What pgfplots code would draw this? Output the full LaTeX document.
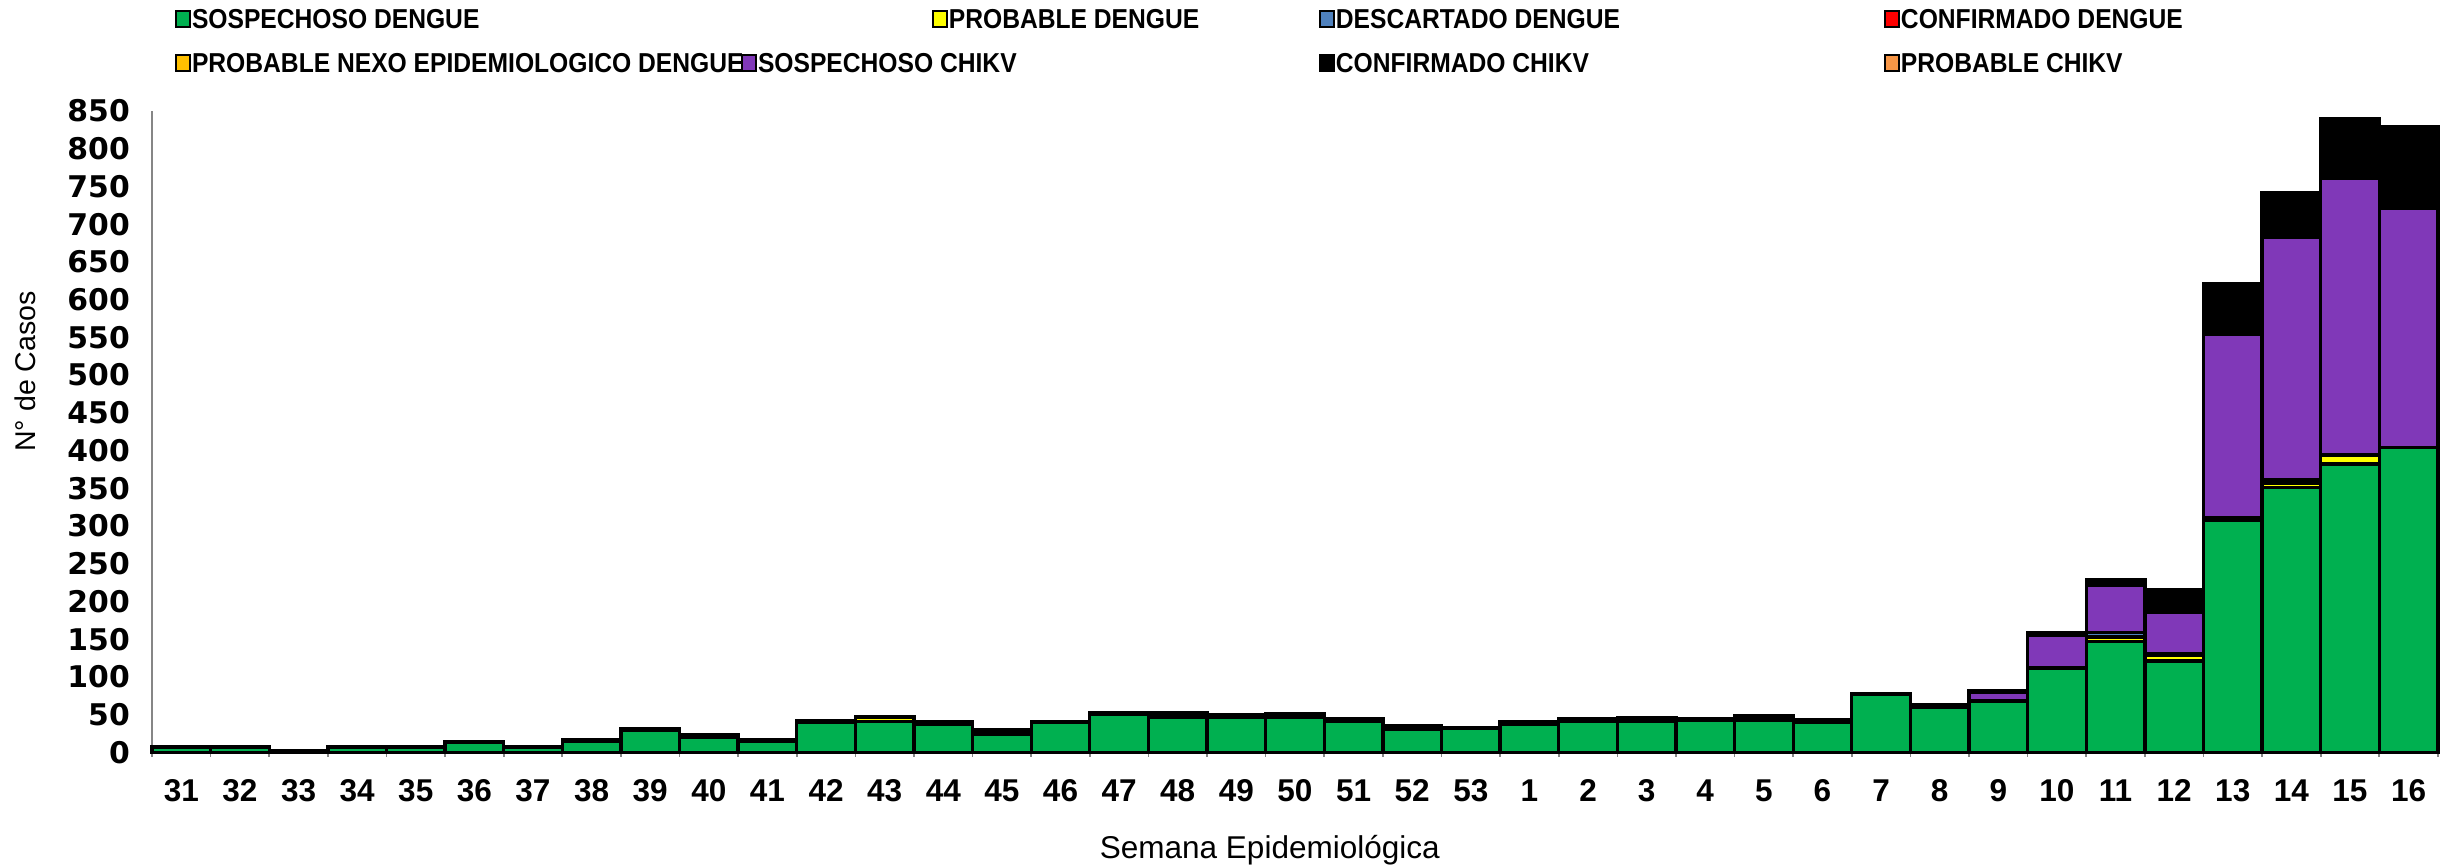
\documentclass[border=0pt]{standalone}
\usepackage{pgfplots}
\usepackage{pgfplotstable}
\usepackage{fontspec}
\pgfplotsset{compat=1.18}
\setmainfont{Liberation Sans}
\newfontfamily\dejavu{DejaVu Sans}
\newfontfamily\legfont[FakeStretch=0.9]{Liberation Sans}

\definecolor{cSD}{RGB}{0,176,80}
\definecolor{cPD}{RGB}{255,255,0}
\definecolor{cDD}{RGB}{79,129,189}
\definecolor{cCD}{RGB}{255,0,0}
\definecolor{cNX}{RGB}{255,192,0}
\definecolor{cSC}{RGB}{128,56,184}
\definecolor{cCC}{RGB}{0,0,0}
\definecolor{cPC}{RGB}{247,150,70}
\definecolor{axgray}{RGB}{134,134,134}

% semana, sospechoso dengue, probable dengue, descartado dengue, confirmado dengue,
% probable nexo, sospechoso chikv, confirmado chikv, probable chikv
\pgfplotstableread{
idx week sdeng pdeng ddeng cdeng nexo schik cchik pchik
0  31  6   0  0 0 0 0   1   0
1  32  6   0  0 0 0 0   2   0
2  33  1   0  0 0 0 0   1   0
3  34  7   0  0 0 0 0   1   0
4  35  7   0  0 0 0 0   0   0
5  36  13  0  0 0 0 0   1   0
6  37  6   0  0 0 0 0   1   0
7  38  15  0  0 0 0 0   2   0
8  39  29  0  0 0 0 0   3   0
9  40  20  0  0 0 0 0   4   0
10 41  15  0  0 0 0 0   2   0
11 42  40  0  0 0 0 0   2   0
12 43  41  5  0 0 0 0   1   0
13 44  37  3  0 0 0 0   1   0
14 45  24  0  0 0 2 0   4   0
15 46  40  0  0 0 0 0   1   0
16 47  50  0  0 0 0 0   2   0
17 48  47  0  5 0 0 0   1   0
18 49  47  0  0 0 2 0   1   0
19 50  47  0  3 0 0 0   1   0
20 51  41  0  0 0 0 0   4   0
21 52  31  0  0 0 2 0   2   0
22 53  32  0  0 0 0 0   1   0
23 1   37  3  0 0 0 0   1   0
24 2   41  0  0 0 0 0   3   0
25 3   41  3  0 0 0 0   2   0
26 4   42  0  0 0 0 0   3   0
27 5   42  0  0 0 3 0   4   0
28 6   40  0  0 0 0 0   3   0
29 7   77  0  0 0 0 0   1   0
30 8   59  0  0 0 2 0   2   0
31 9   67  0  2 0 0 11  2   0
32 10  112 0  0 0 0 43  3   0
33 11  147 6  6 0 0 63  7   0
34 12  121 7  3 0 0 54  27  3
35 13  308 3  0 0 0 243 67  0
36 14  351 5  5 0 0 321 58  2
37 15  382 12 1 0 0 366 77  2
38 16  404 0  0 0 0 317 106 2
}\casos

\newcommand{\legitem}[4]{%
  \node[anchor=west, draw=black, fill=#3, line width=0.6pt, inner sep=0pt,
        minimum width=4.2pt, minimum height=4.6pt] at (axis description cs:#1,#2) {};
  \node[anchor=west, inner sep=0pt, xshift=4.9pt, font=\legfont\bfseries\fontsize{8.25}{9}\selectfont] at (axis description cs:#1,#2) {#4};%
}

\begin{document}
\begin{tikzpicture}
\begin{axis}[
    scale only axis,
    width=689pt, height=193.3pt,
    ybar stacked, bar width=1,
    xmin=-0.5, xmax=38.5,
    ymin=0, ymax=850,
    clip=false,
    axis x line*=bottom,
    axis y line*=left,
    axis line style={draw=axgray, line width=0.8pt},
    every inner x axis line/.append style={-},
    every inner y axis line/.append style={-},
    tick align=outside,
    major tick length=0pt,
    minor tick length=1.3pt,
    minor tick style={draw=axgray, line width=0.5pt},
    xtick={0,...,38},
    minor xtick={-0.5,0.5,...,38.5},
    xticklabels from table={\casos}{week},
    xticklabel style={font=\bfseries\fontsize{9.5}{11}\selectfont, inner sep=0pt, yshift=-8pt},
    ytick={0,50,...,850},
    yticklabel style={font=\dejavu\bfseries\fontsize{9}{10}\selectfont, inner sep=0pt, xshift=-6.5pt},
    /pgf/number format/assume math mode=true,
    xlabel={Semana Epidemiológica},
    xlabel style={font=\fontsize{9.5}{11}\selectfont, at={(axis description cs:0.489,-0.153)}, anchor=center},
    ylabel={N°\ de Casos},
    ylabel style={font=\fontsize{8.6}{10}\selectfont, at={(axis description cs:-0.0556,0.594)}, anchor=center},
    every axis plot/.append style={draw=black, line width=1pt},
]
\addplot[fill=cSD] table[x=idx, y=sdeng] {\casos};
\addplot[fill=cPD] table[x=idx, y=pdeng] {\casos};
\addplot[fill=cDD] table[x=idx, y=ddeng] {\casos};
\addplot[fill=cCD] table[x=idx, y=cdeng] {\casos};
\addplot[fill=cNX] table[x=idx, y=nexo] {\casos};
\addplot[fill=cSC] table[x=idx, y=schik] {\casos};
\addplot[fill=cCC] table[x=idx, y=cchik] {\casos};
\addplot[fill=cPC] table[x=idx, y=pchik] {\casos};

\legitem{0.0101}{1.1435}{cSD}{SOSPECHOSO DENGUE}
\legitem{0.3412}{1.1435}{cPD}{PROBABLE DENGUE}
\legitem{0.5105}{1.1435}{cDD}{DESCARTADO DENGUE}
\legitem{0.7577}{1.1435}{cCD}{CONFIRMADO DENGUE}
\legitem{0.0101}{1.0749}{cNX}{PROBABLE NEXO EPIDEMIOLOGICO DENGUE}
\legitem{0.2577}{1.0749}{cSC}{SOSPECHOSO CHIKV}
\legitem{0.5105}{1.0749}{cCC}{CONFIRMADO CHIKV}
\legitem{0.7577}{1.0749}{cPC}{PROBABLE CHIKV}

\coordinate (bbsw) at (axis description cs:-0.0665,-0.1763);
\coordinate (bbne) at (axis description cs:1.0066,1.1732);
\end{axis}
\pgfresetboundingbox
\path (bbsw) rectangle (bbne);
\end{tikzpicture}
\end{document}
